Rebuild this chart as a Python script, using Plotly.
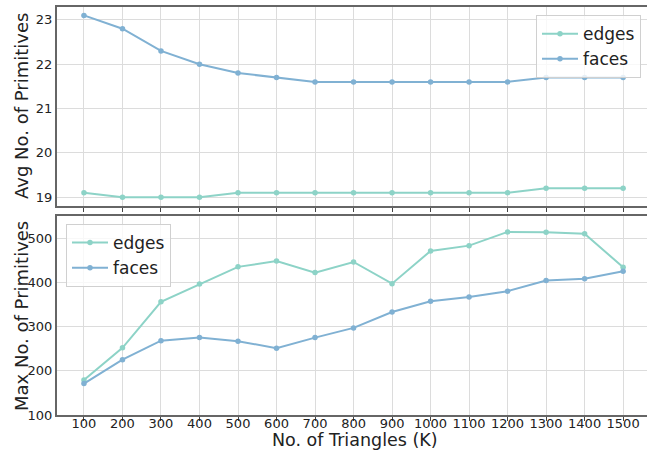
import plotly.graph_objects as go
from plotly.subplots import make_subplots

triangles = [100, 200, 300, 400, 500, 600, 700, 800, 900, 1000, 1100, 1200, 1300, 1400, 1500]
avg_edges = [19.1, 19.0, 19.0, 19.0, 19.1, 19.1, 19.1, 19.1, 19.1, 19.1, 19.1, 19.1, 19.2, 19.2, 19.2]
avg_faces = [23.1, 22.8, 22.3, 22.0, 21.8, 21.7, 21.6, 21.6, 21.6, 21.6, 21.6, 21.6, 21.7, 21.7, 21.7]
max_edges = [179, 252, 356, 396, 435, 448, 422, 446, 397, 471, 483, 514, 513, 510, 434]
max_faces = [171, 225, 268, 275, 267, 251, 275, 297, 333, 357, 367, 380, 404, 408, 425]

C_EDGES = "#8dd3c7"
C_FACES = "#80b1d3"
FONT = "DejaVu Sans"

fig = make_subplots(rows=2, cols=1, shared_xaxes=True, vertical_spacing=0.0245)

def add(row, y, name, color, legend):
    fig.add_trace(go.Scatter(x=triangles, y=y, name=name, mode="lines+markers",
                             line=dict(color=color, width=2),
                             marker=dict(color=color, size=5.5),
                             legend=legend), row=row, col=1)

add(1, avg_edges, "edges", C_EDGES, "legend")
add(1, avg_faces, "faces", C_FACES, "legend")
add(2, max_edges, "edges", C_EDGES, "legend2")
add(2, max_faces, "faces", C_FACES, "legend2")

axis_common = dict(showline=True, linecolor="#666666", linewidth=2,
                   showgrid=True, gridcolor="#dcdcdc", gridwidth=1, zeroline=False,
                   automargin=False,
                   tickfont=dict(family=FONT, size=13, color="#222"))

fig.update_xaxes(**axis_common, mirror=True, range=[30, 1562], tickvals=triangles,
                 ticks="outside", ticklen=4, tickcolor="#444", ticklabelstandoff=-9)
fig.update_xaxes(showticklabels=False, row=1, col=1)
fig.update_yaxes(**axis_common, mirror=False, ticks="")
fig.update_yaxes(range=[18.8, 23.29], tickvals=[19, 20, 21, 22, 23], row=1, col=1)
fig.update_yaxes(range=[100, 550], tickvals=[100, 200, 300, 400, 500], row=2, col=1)

fig.update_layout(
    width=647, height=453,
    margin=dict(l=57, r=0, t=7, b=38, autoexpand=False),
    plot_bgcolor="white", paper_bgcolor="white",
    font=dict(family=FONT, color="#222"),
    legend=dict(x=(641 - 57) / 590, y=0.98, xanchor="right", yanchor="top",
                bgcolor="rgba(255,255,255,0.8)", bordercolor="#d0d0d0", borderwidth=1,
                font=dict(family=FONT, size=17), itemwidth=36, tracegroupgap=0),
    legend2=dict(x=(66 - 57) / 590, y=0.468, xanchor="left", yanchor="top",
                 bgcolor="rgba(255,255,255,0.8)", bordercolor="#d0d0d0", borderwidth=1,
                 font=dict(family=FONT, size=17), itemwidth=36, tracegroupgap=0),
    annotations=[
        dict(text="Avg No. of Primitives", xref="paper", yref="paper",
             x=(21 - 57) / 590, y=1 - (106 - 7) / 408, textangle=-90, showarrow=False,
             xanchor="center", yanchor="middle", font=dict(family=FONT, size=18)),
        dict(text="Max No. of Primitives", xref="paper", yref="paper",
             x=(21 - 57) / 590, y=1 - (316 - 7) / 408, textangle=-90, showarrow=False,
             xanchor="center", yanchor="middle", font=dict(family=FONT, size=18)),
        dict(text="No. of Triangles (K)", xref="paper", yref="paper",
             x=(355 - 57) / 590, y=1 - (440 - 7) / 408, showarrow=False,
             xanchor="center", yanchor="middle", font=dict(family=FONT, size=17.5)),
    ],
)

fig.write_html("out.html", config={"displayModeBar": False},
               post_script="document.body.style.margin='0';document.body.style.overflow='hidden';")
